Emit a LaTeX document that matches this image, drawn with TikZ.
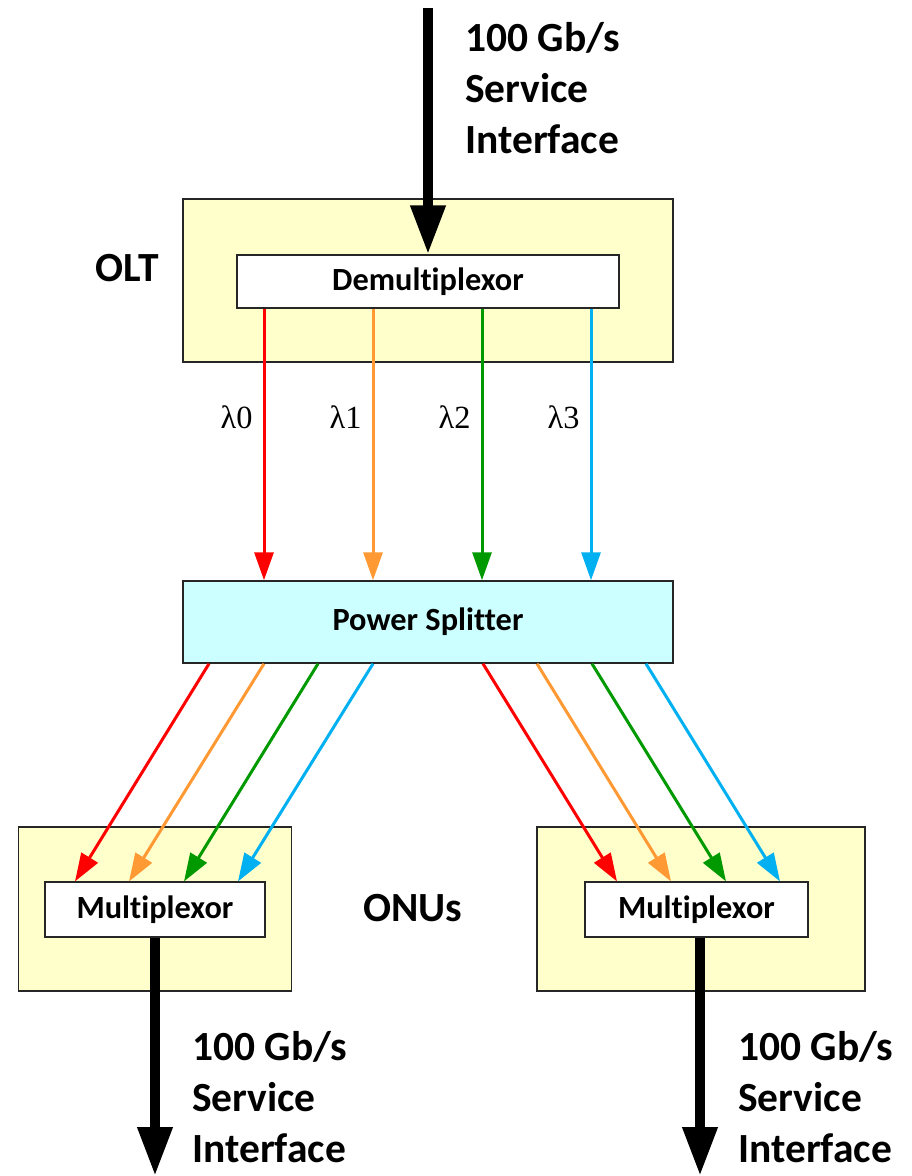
\documentclass[tikz,border=0pt]{standalone}
\usepackage{fontspec}
\setmainfont{Carlito}[Ligatures=NoCommon]
\newfontfamily\lamfont{Liberation Serif}
\usetikzlibrary{arrows.meta}
\definecolor{unitfill}{HTML}{FFFFCC}
\definecolor{splitfill}{HTML}{CCFFFF}
\definecolor{lred}{HTML}{FF0000}
\definecolor{lorange}{HTML}{FF9933}
\definecolor{lgreen}{HTML}{009900}
\definecolor{lblue}{HTML}{00B0F0}
\newcommand{\bigfont}{\fontsize{29.5}{36.3}\selectfont\bfseries}
\newcommand{\boxfont}{\fontsize{23}{27}\selectfont\bfseries}
\begin{document}
\begin{tikzpicture}[x=0.025cm, y=-0.025cm,
		unit/.style={draw=black!85, line width=1pt, fill=unitfill, inner sep=0},
		inbox/.style={draw=black!85, line width=0.8pt, fill=white, inner sep=0, font=\boxfont},
		splitbox/.style={draw=black!85, line width=1pt, fill=splitfill, inner sep=0, font=\boxfont},
		fat/.style={line width=0.25cm, -{Triangle[width=0.825cm, length=1.225cm]}},
		chan/.style={line width=0.075cm, -{Triangle[width=0.475cm, length=0.7cm]}},
		lam/.style={left=0.25cm, inner sep=0, text=black, font=\lamfont\fontsize{23}{27}\selectfont},
		svc/.style={anchor=west, inner sep=0, align=left, font=\bigfont}]
	\useasboundingbox (0,0) rectangle (912,1176);

	\node[unit, minimum width=12.25cm, minimum height=4.075cm] (olt) at (428,280.5) {};
	\node[inbox, minimum width=9.55cm, minimum height=1.325cm] (demux) at (428,281.5) {Demultiplexor};
	\node[font=\bigfont] (oltlbl) at (127,268) {OLT};
	\node[splitbox, minimum width=12.25cm, minimum height=2.05cm] (split) at (428,622) {Power Splitter};
	\node[unit, minimum width=6.825cm, minimum height=4.1cm] (onua) at (155,909) {};
	\node[unit, minimum width=8.2cm, minimum height=4.1cm] (onub) at (701,909) {};
	\node[inbox, minimum width=5.5cm, minimum height=1.375cm] (muxa) at (155,909.5) {Multiplexor};
	\node[inbox, minimum width=5.575cm, minimum height=1.375cm] (muxb) at (696.5,909.5) {Multiplexor};
	\node[font=\bigfont] (onulbl) at (413,908) {ONUs};

	% service interfaces
	\coordinate (in) at (428,8);
	\coordinate (outa) at (155,1176);
	\coordinate (outb) at (700,1176);
	\draw[fat] (in) -- (demux.north);
	\draw[fat] (muxa.south -| outa) -- (outa);
	\draw[fat] (muxb.south -| outb) -- (outb);
	\node[svc] (svcin) at (465,88) {100 Gb/s\\Service\\Interface};
	\node[svc] (svca) at (192,1097) {100 Gb/s\\Service\\Interface};
	\node[svc] (svcb) at (738,1097) {100 Gb/s\\Service\\Interface};

	% wavelengths
	\foreach \x / \col [count=\i from 0] in {264/lred, 373/lorange, 482/lgreen, 591/lblue} {
		\coordinate (w\i) at (\x,0);
		\draw[chan, \col] (demux.south -| w\i) -- node[lam, pos=0.4] {λ\i} (split.north -| w\i);
	}
	\foreach \a / \b / \col / \m in {209/75/lred/muxa, 264/129/lorange/muxa, 318/184/lgreen/muxa, 373/238/lblue/muxa,
			483/617/lred/muxb, 537/671/lorange/muxb, 592/726/lgreen/muxb, 646/780/lblue/muxb} {
		\coordinate (sp) at (\a,0);
		\coordinate (ep) at (\b,0);
		\draw[chan, \col] (split.south -| sp) -- (\m.north -| ep);
	}
\end{tikzpicture}
\end{document}
